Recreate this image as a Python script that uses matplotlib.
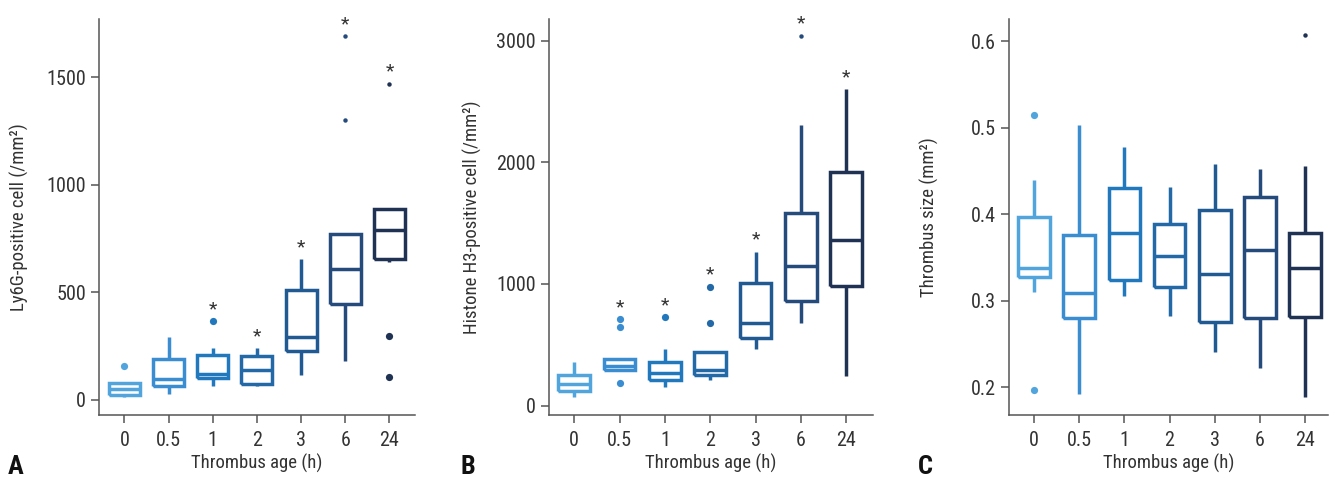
import matplotlib
matplotlib.use('Agg')
import matplotlib.pyplot as plt

# group labels (thrombus age, h)
ages = ['0', '0.5', '1', '2', '3', '6', '24']
colors = ['#52a5dc', '#3a8dd0', '#2178bd', '#2369a7', '#215a92', '#244b7b', '#1f3253']

# panel A: Ly6G-positive cells
a_q1 = [23, 65, 101, 74, 228, 444, 655]
a_med = [50, 96, 121, 139, 294, 607, 789]
a_q3 = [77, 189, 209, 206, 511, 771, 887]
a_lo = [15, 28, 67, 67, 116, 183, 642]
a_hi = [77, 294, 243, 240, 655, 774, 887]
a_out = [[158], [], [367], [], [], [], [297, 105]]
a_far = [[], [], [], [], [], [1692, 1300], [1470]]
a_star = [False, False, True, True, True, True, True]

# panel B: histone H3-positive cells
b_q1 = [123, 293, 211, 252, 553, 863, 986]
b_med = [175, 326, 271, 293, 682, 1151, 1362]
b_q3 = [252, 381, 362, 438, 1005, 1581, 1918]
b_lo = [74, 293, 156, 211, 463, 677, 244]
b_hi = [362, 381, 463, 438, 1266, 2304, 2600]
b_out = [[], [712, 644, 184], [726], [978, 682], [], [], []]
b_far = [[], [], [], [], [], [3041], []]
b_star = [False, True, True, True, True, True, True]

# panel C: thrombus size
c_q1 = [0.328, 0.280, 0.324, 0.316, 0.276, 0.280, 0.281]
c_med = [0.338, 0.309, 0.379, 0.352, 0.331, 0.359, 0.338]
c_q3 = [0.3975, 0.376, 0.431, 0.389, 0.405, 0.420, 0.378]
c_lo = [0.310, 0.192, 0.306, 0.282, 0.241, 0.222, 0.189]
c_hi = [0.440, 0.503, 0.478, 0.432, 0.458, 0.453, 0.456]
c_out = [[0.515, 0.197], [], [], [], [], [], []]
c_far = [[], [], [], [], [], [], [0.607]]
c_star = [False] * 7

plt.rcParams['font.family'] = ['Roboto Condensed', 'Archivo Narrow', 'Liberation Sans Narrow', 'DejaVu Sans']
txt = '#333333'

fig = plt.figure(figsize=(13.38, 4.78), dpi=100)
H = 478.0
W = 1338.0


def panel(rect, xlim, q1, med, q3, lo, hi, out, far, star, ylim, yticks, ylabel, letter, lx, letter_x):
    l, r = rect
    ax = fig.add_axes([l / W, (H - 415) / H, (r - l) / W, (415 - 19) / H])
    pos = list(range(len(ages)))
    for i in pos:
        st = [dict(q1=q1[i], med=med[i], q3=q3[i], whislo=lo[i], whishi=hi[i], fliers=[])]
        lp = dict(color=colors[i], linewidth=2.5, solid_joinstyle='miter', solid_capstyle='butt')
        ax.bxp(st, positions=[i], widths=0.7, showcaps=False, showfliers=False,
               boxprops=lp, whiskerprops=lp, medianprops=lp, manage_ticks=False)
        if out[i]:
            ax.plot([i] * len(out[i]), out[i], 'o', color=colors[i], markersize=5.2, markeredgewidth=0)
        if far[i]:
            ax.plot([i] * len(far[i]), far[i], 'o', color=colors[i], markersize=3.2, markeredgewidth=0)
        if star[i]:
            top = max([hi[i], q3[i]] + out[i] + far[i])
            ax.annotate('*', xy=(i, top), xytext=(0, 5), textcoords='offset points',
                        ha='center', va='baseline', fontsize=14, color=txt)
    ax.set_xlim(*xlim)
    ax.set_ylim(*ylim)
    ax.set_xticks(pos)
    ax.set_xticklabels(ages)
    ax.set_yticks(yticks)
    for s in ['top', 'right']:
        ax.spines[s].set_visible(False)
    for s in ['left', 'bottom']:
        ax.spines[s].set_color('#555555')
        ax.spines[s].set_linewidth(1.1)
    ax.tick_params(axis='both', colors='#555555', labelcolor=txt, labelsize=14.5, length=5.5, width=1.1)
    ax.tick_params(axis='x', pad=6)
    ax.tick_params(axis='y', pad=4)
    ax.set_ylabel(ylabel, fontsize=13.5, color=txt, va='center')
    ax.set_xlabel('Thrombus age (h)', fontsize=13.5, color=txt, va='center')
    ax.yaxis.set_label_coords(lx, 0.5)
    ax.xaxis.set_label_coords(0.5, -0.121)
    fig.text(letter_x / W, (H - 467) / H, letter, fontsize=19, fontweight='bold',
             color='#111111', ha='left', va='center')
    return ax


panel((99.3, 415), (-0.566, 6.577), a_q1, a_med, a_q3, a_lo, a_hi, a_out, a_far, a_star,
      (-70, 1770), [0, 500, 1000, 1500], 'Ly6G-positive cell (/mm²)', 'A', -0.254, 8)
panel((549.3, 872.7), (-0.552, 6.587), b_q1, b_med, b_q3, b_lo, b_hi, b_out, b_far, b_star,
      (-77, 3178), [0, 1000, 2000, 3000], 'Histone H3-positive cell (/mm²)', 'B', -0.239, 461)
panel((1009, 1327.7), (-0.553, 6.50), c_q1, c_med, c_q3, c_lo, c_hi, c_out, c_far, c_star,
      (0.168, 0.626), [0.2, 0.3, 0.4, 0.5, 0.6], 'Thrombus size (mm²)', 'C', -0.251, 918)

fig.savefig('out.png', dpi=100)
